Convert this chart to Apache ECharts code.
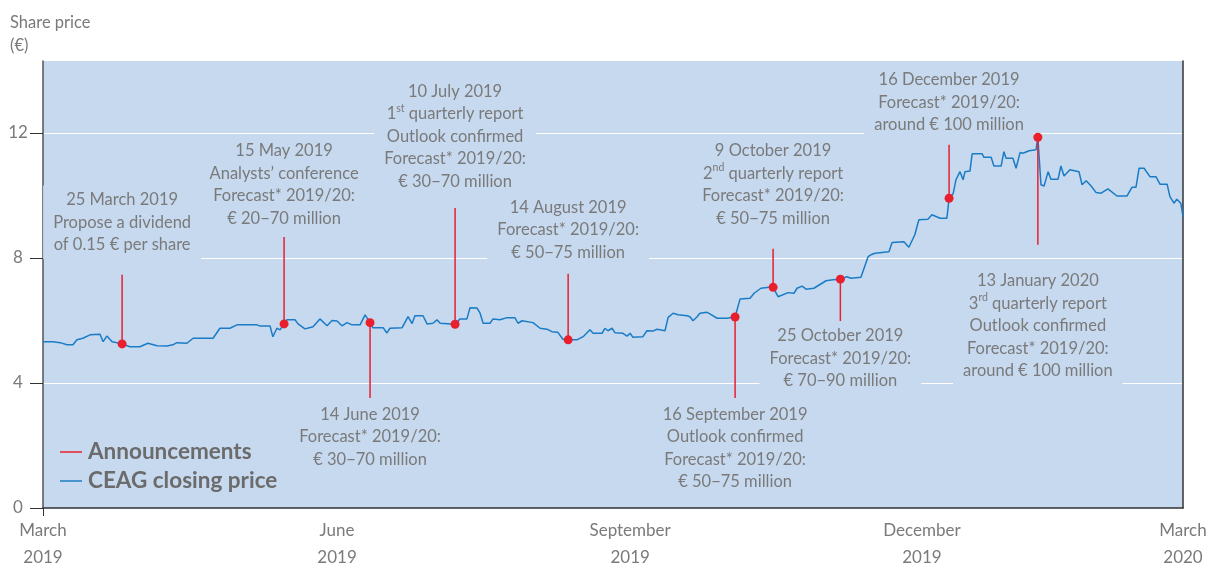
<!DOCTYPE html>
<html>
<head>
<meta charset="utf-8">
<script src="https://cdn.jsdelivr.net/npm/echarts@6/dist/echarts.min.js"></script>
<style>
  html, body { margin: 0; padding: 0; background: #fff; }
  #chart { width: 1219px; height: 567px; }
</style>
</head>
<body>
<div id="chart"></div>
<script>
// x values: days along the axis, counted from 1 March 2019
var tickDays = [0, 94.4, 188.5, 282.2, 366];
var tickLabels = ['March\n2019', 'June\n2019', 'September\n2019', 'December\n2019', 'March\n2020'];
var priceTicks = [0, 4, 8, 12];

// CEAG closing price (EUR)
var priceDays = [0, 3.2, 5.5, 7.7, 9.6, 10.9, 12.8, 15.1, 18.3, 19.3,
  20.5, 22.2, 25.4, 27.9, 31.1, 33.7, 36.6, 39.8, 41.7, 43.0,
  46.2, 48.2, 54.6, 56.8, 60.0, 62.3, 68.7, 69.7, 72.9, 73.8,
  75.1, 76.1, 77.4, 78.3, 80.9, 81.9, 84.1, 86.7, 88.9, 91.2,
  92.8, 94.4, 96.0, 97.6, 99.2, 101.8, 103.4, 105.0, 105.9, 109.2,
  110.4, 111.4, 115.3, 117.2, 118.5, 119.4, 122.0, 123.3, 125.2, 126.5,
  127.5, 132.3, 133.9, 136.1, 137.1, 139.3, 140.3, 141.3, 143.5, 144.5,
  146.7, 149.0, 151.5, 152.5, 153.8, 157.3, 159.6, 161.8, 163.4, 165.3,
  166.9, 168.6, 171.4, 173.4, 175.6, 176.6, 179.5, 180.4, 181.4, 182.7,
  183.6, 186.2, 187.5, 188.5, 189.4, 192.6, 193.9, 195.8, 197.1, 199.7,
  200.7, 202.3, 203.9, 206.8, 207.7, 208.7, 210.0, 210.9, 213.2, 214.1,
  216.4, 219.6, 222.2, 223.8, 227.0, 228.3, 230.5, 233.1, 234.4, 236.0,
  239.2, 241.1, 242.1, 243.7, 245.0, 247.5, 251.4, 253.6, 256.0, 258.1,
  259.4, 262.6, 264.9, 265.8, 267.1, 271.6, 272.6, 276.4, 278.0, 279.9,
  281.2, 284.1, 285.4, 288.0, 290.2, 290.9, 292.2, 293.1, 294.4, 295.4,
  296.0, 297.6, 298.3, 301.5, 302.1, 304.4, 305.3, 307.6, 308.5, 309.2,
  311.4, 312.4, 313.7, 314.6, 316.6, 318.8, 319.4, 320.4, 321.4, 322.7,
  323.6, 325.9, 326.8, 327.8, 329.7, 332.6, 333.6, 334.9, 336.5, 338.1,
  339.7, 341.9, 344.8, 348.0, 349.6, 350.9, 351.9, 353.5, 355.4, 357.3,
  358.6, 360.9, 361.8, 363.1, 364.0, 365.3, 366];
var prices = [5.32, 5.32, 5.29, 5.22, 5.22, 5.38, 5.43, 5.54, 5.56, 5.32,
  5.50, 5.32, 5.25, 5.16, 5.16, 5.27, 5.19, 5.18, 5.22, 5.29,
  5.27, 5.43, 5.43, 5.75, 5.75, 5.86, 5.86, 5.82, 5.82, 5.48,
  5.75, 5.70, 5.89, 6.02, 6.02, 5.89, 5.73, 5.80, 6.05, 5.83,
  6.00, 5.98, 5.83, 5.93, 5.86, 5.86, 6.18, 5.93, 5.77, 5.77,
  5.60, 5.75, 5.77, 6.12, 5.90, 6.15, 6.15, 5.89, 5.91, 6.02,
  5.91, 5.88, 6.05, 6.05, 6.41, 6.40, 6.24, 5.91, 5.91, 6.05,
  6.02, 6.09, 6.09, 5.91, 5.99, 5.93, 5.75, 5.72, 5.64, 5.62,
  5.40, 5.38, 5.38, 5.48, 5.70, 5.59, 5.59, 5.75, 5.67, 5.75,
  5.61, 5.59, 5.50, 5.59, 5.46, 5.48, 5.67, 5.66, 5.72, 5.67,
  6.10, 6.23, 6.18, 6.15, 6.12, 5.99, 6.12, 6.23, 6.26, 6.21,
  6.07, 6.07, 6.11, 6.69, 6.71, 6.87, 7.03, 7.06, 7.06, 6.76,
  6.89, 6.87, 7.03, 7.10, 7.00, 7.03, 7.27, 7.30, 7.32, 7.40,
  7.35, 7.38, 8.04, 8.10, 8.15, 8.20, 8.49, 8.52, 8.34, 8.74,
  9.22, 9.24, 9.38, 9.27, 9.27, 9.91, 10.05, 10.50, 10.76, 10.50,
  10.76, 10.78, 11.33, 11.33, 11.22, 11.22, 10.94, 10.94, 11.40, 11.19,
  11.19, 10.87, 11.37, 11.35, 11.43, 11.46, 11.86, 10.34, 10.30, 10.76,
  10.52, 10.52, 10.94, 10.62, 10.82, 10.76, 10.34, 10.47, 10.30, 10.09,
  10.07, 10.21, 9.98, 9.98, 10.26, 10.26, 10.87, 10.87, 10.60, 10.60,
  10.36, 10.36, 9.96, 9.75, 9.88, 9.75, 9.32];

// announcements: where the dot sits, where the red stem ends, where the note text begins
var noteDays = [25.4, 77.4, 105.0, 132.3, 168.6, 222.2, 234.4, 256.0, 290.9, 319.4];
var noteValues = [5.25, 5.89, 5.93, 5.88, 5.38, 6.11, 7.06, 7.32, 9.91, 11.86];
var stemEnds = [7.46, 8.67, 3.52, 9.6, 7.49, 3.52, 8.29, 5.98, 11.62, 8.42];
var noteEdges = [8.06, 8.9, 3.36, 10.08, 7.81, 3.36, 8.9, 5.86, 11.9, 7.62];
var noteTexts = [
  '25 March 2019\nPropose a dividend\nof 0.15 € per share',
  '15 May 2019\nAnalysts’ conference\nForecast* 2019/20:\n€ 20−70 million',
  '14 June 2019\nForecast* 2019/20:\n€ 30−70 million',
  '10 July 2019\n1{sup|st} quarterly report\nOutlook confirmed\nForecast* 2019/20:\n€ 30−70 million',
  '14 August 2019\nForecast* 2019/20:\n€ 50−75 million',
  '16 September 2019\nOutlook confirmed\nForecast* 2019/20:\n€ 50−75 million',
  '9 October 2019\n2{sup|nd} quarterly report\nForecast* 2019/20:\n€ 50−75 million',
  '25 October 2019\nForecast* 2019/20:\n€ 70−90 million',
  '16 December 2019\nForecast* 2019/20:\naround € 100 million',
  '13 January 2020\n3{sup|rd} quarterly report\nOutlook confirmed\nForecast* 2019/20:\naround € 100 million'
];

var FONT = 'Lato, "Noto Sans", sans-serif';
var PLOT_BG = '#c6d9ef';
var RED = '#e8202e';
var BLUE = '#1b7cc6';
var GREY = '#7a7a7a';
var padV = 3;
var padH = 10;

var chart = echarts.init(document.getElementById('chart'));

var priceData = priceDays.map(function (d, i) { return [d, prices[i]]; });
var stemData = noteDays.map(function (d, i) { return [d, noteValues[i], stemEnds[i]]; });
var dotData = noteDays.map(function (d, i) { return [d, noteValues[i]]; });
var textData = noteDays.map(function (d, i) { return [d, noteEdges[i]]; });

function renderStem(params, api) {
  var a = api.coord([api.value(0), api.value(1)]);
  var b = api.coord([api.value(0), api.value(2)]);
  return {
    type: 'line',
    shape: { x1: a[0], y1: a[1], x2: b[0], y2: b[1] },
    style: { stroke: RED, lineWidth: 1.5 }
  };
}

// note text sits on a box of the plot colour, so gridlines stop around it
function renderNote(params, api) {
  var i = params.dataIndex;
  var p = api.coord([api.value(0), api.value(1)]);
  var above = noteEdges[i] > noteValues[i];
  return {
    type: 'text',
    x: p[0],
    y: above ? p[1] + padV : p[1] - padV,
    style: {
      text: noteTexts[i],
      align: 'center',
      verticalAlign: above ? 'bottom' : 'top',
      fill: GREY,
      fontSize: 16.5,
      fontFamily: FONT,
      lineHeight: 22.5,
      backgroundColor: PLOT_BG,
      padding: [padV, padH, padV, padH],
      rich: {
        sup: { fontSize: 10.5, fontFamily: FONT, fill: GREY, lineHeight: 12, verticalAlign: 'top' }
      }
    }
  };
}

chart.setOption({
  animation: false,
  title: {
    text: 'Share price\n(€)',
    left: 5,
    top: 6,
    textStyle: { color: GREY, fontSize: 16.5, fontWeight: 'normal', fontFamily: FONT, lineHeight: 23 }
  },
  legend: {
    orient: 'vertical',
    left: 55,
    top: 433,
    itemGap: 1,
    icon: 'rect',
    itemWidth: 22,
    itemHeight: 1.5,
    data: ['Announcements', 'CEAG closing price'],
    textStyle: { color: '#6b6b6b', fontSize: 22.5, fontWeight: 'bold', fontFamily: FONT, lineHeight: 28, padding: [0, 0, 0, 1] }
  },
  grid: {
    left: 43, right: 36, top: 61, bottom: 59,
    outerBoundsMode: 'none',
    show: true, backgroundColor: PLOT_BG, borderWidth: 0
  },
  xAxis: {
    type: 'value',
    min: 0,
    max: 366,
    axisLine: { show: true, onZero: false, lineStyle: { color: '#333', width: 1.5 } },
    axisTick: { show: true, customValues: [0], length: 8, lineStyle: { color: '#333' } },
    axisLabel: {
      customValues: tickDays,
      color: GREY,
      fontSize: 17,
      fontFamily: FONT,
      lineHeight: 27,
      margin: 9,
      formatter: function (v) {
        var best = 0;
        tickDays.forEach(function (d, i) {
          if (Math.abs(d - v) < Math.abs(tickDays[best] - v)) best = i;
        });
        return tickLabels[best];
      }
    },
    splitLine: { show: false }
  },
  yAxis: [{
    type: 'value',
    min: 0,
    max: 14.3,
    interval: 4,
    axisLine: { show: true, lineStyle: { color: '#555', width: 1.5 } },
    axisTick: { show: true, customValues: priceTicks, length: 13, lineStyle: { color: '#333' } },
    axisLabel: { customValues: priceTicks, color: GREY, fontSize: 17, fontFamily: FONT, margin: 25, align: 'center' },
    splitLine: { show: true, lineStyle: { color: '#ffffff', width: 1.2 } }
  }, {
    type: 'value',
    min: 0,
    max: 14.3,
    position: 'right',
    axisLine: { show: true, lineStyle: { color: '#333', width: 1.5 } },
    axisTick: { show: false },
    axisLabel: { show: false },
    splitLine: { show: false }
  }],
  series: [
    {
      name: 'notes',
      type: 'custom',
      z: 1,
      renderItem: renderNote,
      encode: { x: 0, y: 1 },
      data: textData,
      silent: true
    },
    {
      name: 'CEAG closing price',
      type: 'line',
      z: 3,
      data: priceData,
      showSymbol: false,
      color: BLUE,
      lineStyle: { color: BLUE, width: 1.5 }
    },
    {
      name: 'Announcements',
      type: 'custom',
      z: 4,
      renderItem: renderStem,
      encode: { x: 0, y: 1 },
      itemStyle: { color: RED },
      data: stemData
    },
    {
      name: 'dots',
      type: 'scatter',
      z: 5,
      data: dotData,
      symbolSize: 9,
      itemStyle: { color: RED, opacity: 1 }
    }
  ]
});
</script>
</body>
</html>
